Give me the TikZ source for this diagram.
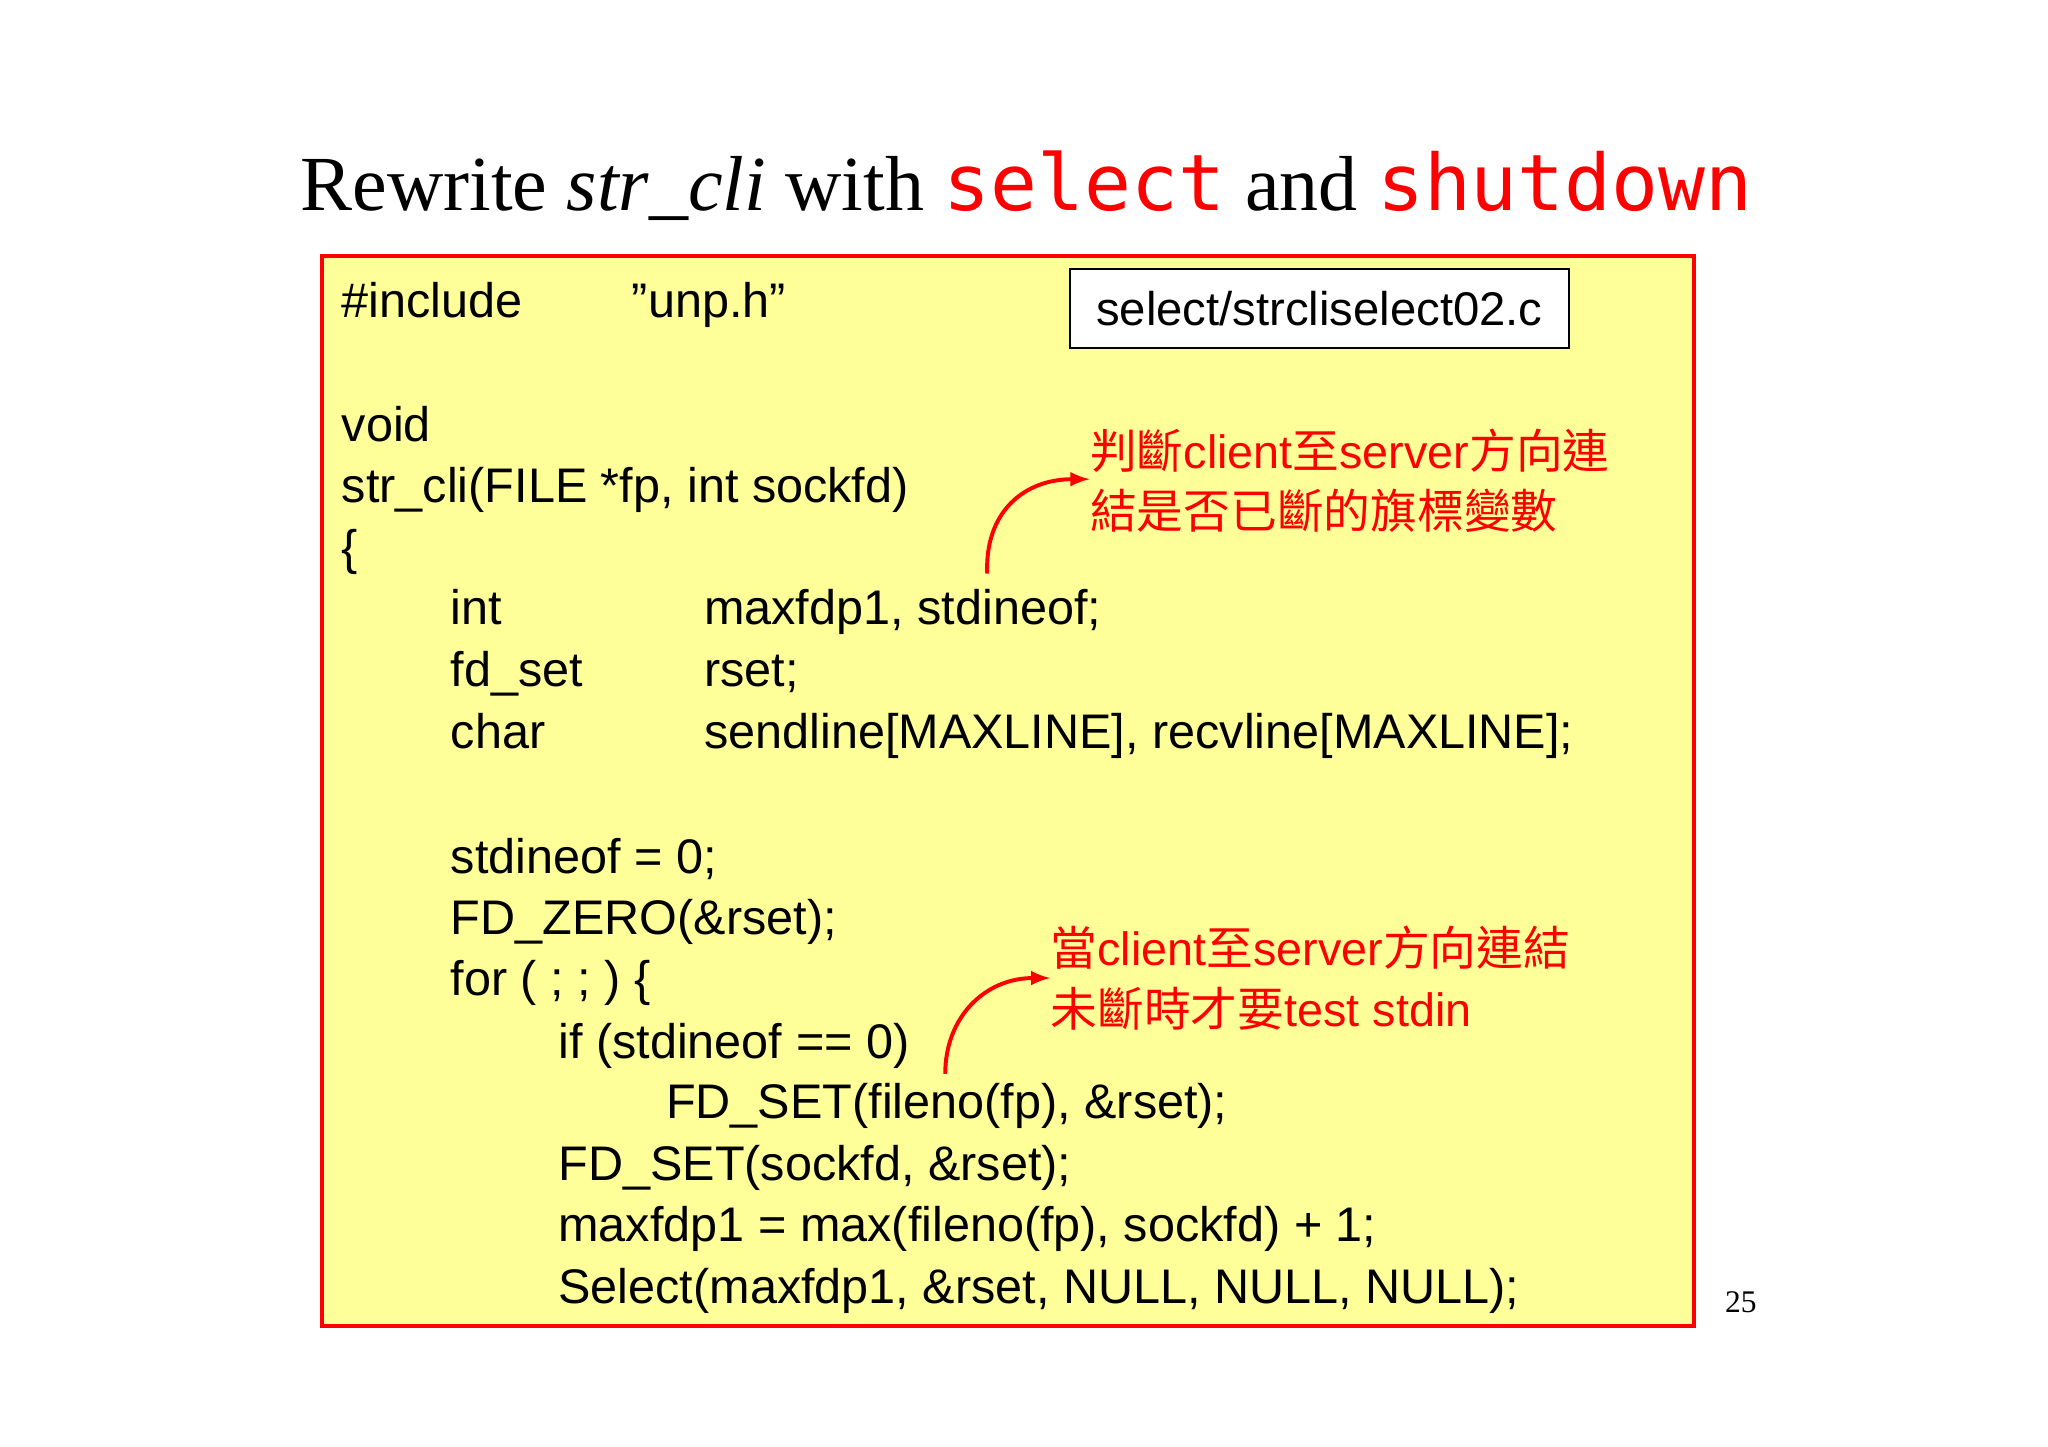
\documentclass[tikz,border=0pt]{standalone}
\usepackage{fontspec}
\setmainfont{Liberation Serif}
\setsansfont{Liberation Sans}
\setmonofont{DejaVu Sans Mono}
\newfontfamily\cjk{Noto Sans CJK TC}
\begin{document}
\begin{tikzpicture}[x=0.5pt,y=-0.5pt,
 code/.style={anchor=base west,inner sep=0,font=\sffamily\fontsize{18.5}{20}\selectfont},
 note/.style={anchor=west,inner sep=0,align=left,text=red,font=\sffamily\fontsize{17.8}{23}\selectfont},
 arr/.style={red,line width=1.5pt,-latex}]
\useasboundingbox (0,0) rectangle (1560,1102);
\fill[white] (0,0) rectangle (1560,1102);
\node[anchor=base,inner sep=0,font=\fontsize{29.7}{36}\selectfont] (title) at (782,160)
 {Rewrite \textit{str\_cli} with \textcolor{red}{\ttfamily select} and \textcolor{red}{\ttfamily shutdown}};
\draw[red,line width=1.5pt,fill={rgb,255:red,255;green,255;blue,153}] (245,195) rectangle (1290,1010);
\node[draw,fill=white,line width=0.6pt,minimum width=190pt,minimum height=30pt,inner sep=0,font=\sffamily\fontsize{18}{20}\selectfont] (file) at (1005,235) {select/strcliselect02.c};
\node[code] (l1) at (260,242) {\#include};
\node[code] (l1b) at (481,242) {\char"22 unp.h\char"22};
\node[code] (l2) at (260,336) {void};
\node[code] (l3) at (260,383) {str\_cli(FILE *fp, int sockfd)};
\node[code] (l4) at (260,430) {\{};
\node[code] (l5) at (343,476) {int};
\node[code] (l5b) at (536,476) {maxfdp1, stdineof;};
\node[code] (l6) at (343,523) {fd\_set};
\node[code] (l6b) at (536,523) {rset;};
\node[code] (l7) at (343,570) {char};
\node[code] (l7b) at (536,570) {sendline[MAXLINE], recvline[MAXLINE];};
\node[code] (l8) at (343,665) {stdineof = 0;};
\node[code] (l9) at (343,712) {FD\_ZERO(\&rset);};
\node[code] (l10) at (343,758) {for ( ; ; ) \{};
\node[code] (l11) at (425,806) {if (stdineof == 0)};
\node[code] (l12) at (507,852) {FD\_SET(fileno(fp), \&rset);};
\node[code] (l13) at (425,899) {FD\_SET(sockfd, \&rset);};
\node[code] (l14) at (425,946) {maxfdp1 = max(fileno(fp), sockfd) + 1;};
\node[code] (l15) at (425,993) {Select(maxfdp1, \&rset, NULL, NULL, NULL);};
\node[note] (n1) at (830,366) {{\cjk 判斷}client{\cjk 至}server{\cjk 方向連}\\{\cjk 結是否已斷的旗標變數}};
\node[note] (n2) at (800,745) {{\cjk 當}client{\cjk 至}server{\cjk 方向連結}\\{\cjk 未斷時才要}test stdin};
\coordinate (a1) at (752,437);
\coordinate (a2) at (720,818);
\draw[arr] (a1) .. controls (750,390) and (780,365) .. (n1.west |- 0,365);
\draw[arr] (a2) .. controls (720,775) and (750,745) .. (n2.west |- 0,745);
\node[anchor=base,inner sep=0,font=\fontsize{12}{14}\selectfont] (pg) at (1326,1000) {25};
\end{tikzpicture}
\end{document}
